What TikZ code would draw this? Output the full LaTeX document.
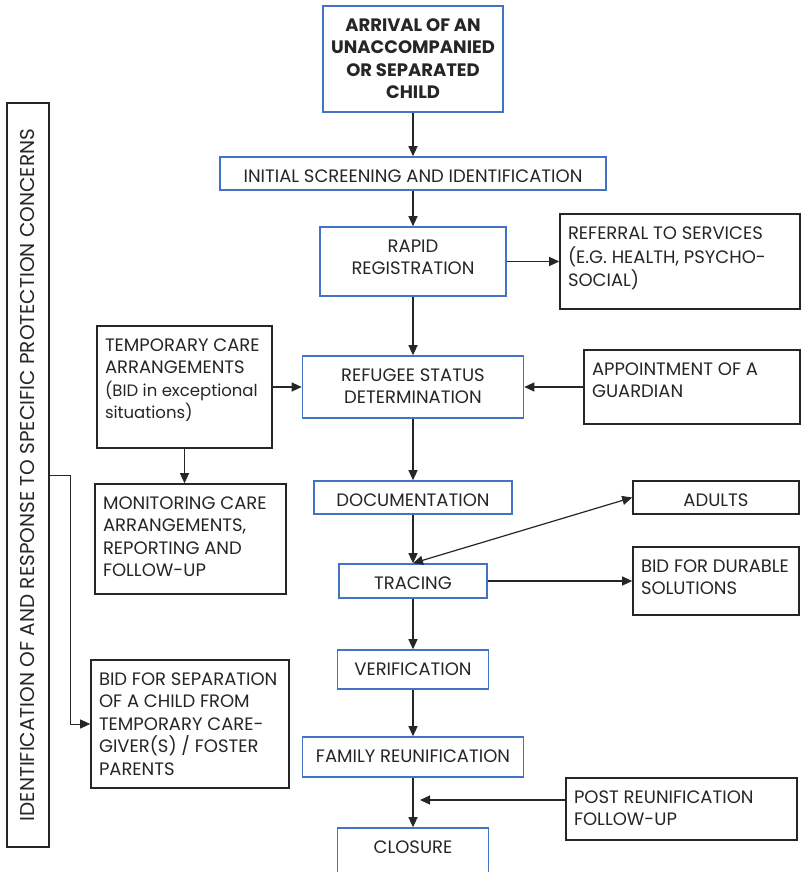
\documentclass[tikz,border=0pt]{standalone}
\usepackage{fontspec}
\setmainfont{Poppins}
\usetikzlibrary{arrows.meta}
\definecolor{boxblue}{HTML}{4472C4}
\definecolor{boxgray}{HTML}{262626}
\newcommand{\bxt}[4]{\parbox[c][#2][t]{#1}{#3\vspace*{9.5pt}\strut#4}}
\begin{document}
\begin{tikzpicture}[x=1pt,y=-1pt,
  font=\fontsize{18}{22.5}\selectfont,
  bbox/.style={draw=boxblue,line width=1.6pt,inner sep=0pt,text=boxgray},
  kbox/.style={draw=boxgray,line width=1.6pt,inner sep=0pt,text=boxgray},
  arr/.style={draw=boxgray,line width=1.2pt,-{Triangle[length=10pt,width=9pt]}},
  arrb/.style={draw=boxgray,line width=1.2pt,{Triangle[length=10pt,width=9pt]}-{Triangle[length=10pt,width=9pt]}}]
\useasboundingbox (0,0) rectangle (801,872);
\fill[white] (0,0) rectangle (801,872);
% main column
\node[bbox,minimum width=180pt,minimum height=106pt] (arr) at (413,59) {\bxt{164pt}{106pt}{\centering\bfseries}{ARRIVAL OF AN\\UNACCOMPANIED\\OR SEPARATED\\CHILD}};
\node[bbox,minimum width=386pt,minimum height=33pt] (init) at (413,173.5) {\bxt{370pt}{33pt}{\centering}{INITIAL SCREENING AND IDENTIFICATION}};
\node[bbox,minimum width=186pt,minimum height=69pt] (rapid) at (413,261.5) {\bxt{170pt}{69pt}{\centering}{RAPID\\REGISTRATION}};
\node[bbox,minimum width=221pt,minimum height=62pt] (rsd) at (413,387) {\bxt{205pt}{62pt}{\centering}{REFUGEE STATUS\\DETERMINATION}};
\node[bbox,minimum width=198pt,minimum height=33pt] (doc) at (413,497.5) {\bxt{182pt}{33pt}{\centering}{DOCUMENTATION}};
\node[bbox,minimum width=148pt,minimum height=34pt] (trac) at (413,581) {\bxt{132pt}{34pt}{\centering}{TRACING}};
\node[bbox,minimum width=151pt,minimum height=39pt] (ver) at (413,669.5) {\bxt{135pt}{39pt}{\centering}{VERIFICATION}};
\node[bbox,minimum width=221pt,minimum height=40pt] (fam) at (413,757) {\bxt{205pt}{40pt}{\centering}{FAMILY REUNIFICATION}};
\node[bbox,minimum width=151pt,minimum height=46pt] (clo) at (413,851) {\bxt{135pt}{46pt}{\centering}{CLOSURE}};
% side boxes
\node[kbox,minimum width=240pt,minimum height=95pt] (ref) at (680,261.5) {\bxt{224pt}{95pt}{\raggedright}{REFERRAL TO SERVICES\\(E.G. HEALTH, PSYCHO-\\SOCIAL)}};
\node[kbox,minimum width=216pt,minimum height=74pt] (app) at (692,387) {\bxt{200pt}{74pt}{\raggedright}{APPOINTMENT OF A\\GUARDIAN}};
\node[kbox,minimum width=175pt,minimum height=122pt] (temp) at (184.5,387) {\bxt{159pt}{122pt}{\raggedright}{TEMPORARY CARE\\ARRANGEMENTS\\\mbox{\fontsize{16.5}{22.5}\selectfont (BID in exceptional}\\\mbox{\fontsize{16.5}{22.5}\selectfont situations)}}};
\node[kbox,minimum width=191pt,minimum height=110pt] (mon) at (190.5,539) {\bxt{175pt}{110pt}{\raggedright}{MONITORING CARE\\ARRANGEMENTS,\\REPORTING AND\\FOLLOW-UP}};
\node[kbox,minimum width=166pt,minimum height=33pt] (adu) at (716,497.5) {\bxt{150pt}{33pt}{\centering}{ADULTS}};
\node[kbox,minimum width=166pt,minimum height=68pt] (dur) at (716,581) {\bxt{150pt}{68pt}{\raggedright}{BID FOR DURABLE\\SOLUTIONS}};
\node[kbox,minimum width=198pt,minimum height=128pt] (sep) at (190,724) {\bxt{182pt}{128pt}{\raggedright}{BID FOR SEPARATION\\OF A CHILD FROM\\TEMPORARY CARE-\\GIVER(S) / FOSTER\\PARENTS}};
\node[kbox,minimum width=231pt,minimum height=62pt] (post) at (681.5,809) {\bxt{215pt}{62pt}{\raggedright}{POST REUNIFICATION\\FOLLOW-UP}};
\node[kbox,minimum width=42pt,minimum height=744pt] (idr) at (28,475) {};
\node[text=boxgray,rotate=90,font=\fontsize{20}{24}\selectfont] (idrt) at (idr.center) {IDENTIFICATION OF AND RESPONSE TO SPECIFIC PROTECTION CONCERNS};
% connectors
\draw[arr] (arr.south) -- (init.north);
\draw[arr] (init.south) -- (rapid.north);
\draw[arr] (rapid.east) -- (ref.west);
\draw[arr] (rapid.south) -- (rsd.north);
\draw[arr] (temp.east) -- (rsd.west);
\draw[arr] (app.west) -- (rsd.east);
\draw[arr] (temp.south) -- (temp.south |- mon.north);
\draw[arr] (rsd.south) -- (doc.north);
\draw[arr] (doc.south) -- (trac.north);
\draw[arrb] (adu.west) -- (trac.north);
\draw[arr] (trac.east) -- (dur.west);
\draw[arr] (trac.south) -- (ver.north);
\draw[arr] (ver.south) -- (fam.north);
\draw[arr] (fam.south) -- (clo.north);
\coordinate (postend) at (420,800);
\draw[arr] ([yshift=9pt]post.west) -- (postend);
\draw[arr,line width=0.9pt] (idr.east) -- ++(21,0) |- (sep.west);
\end{tikzpicture}
\end{document}
